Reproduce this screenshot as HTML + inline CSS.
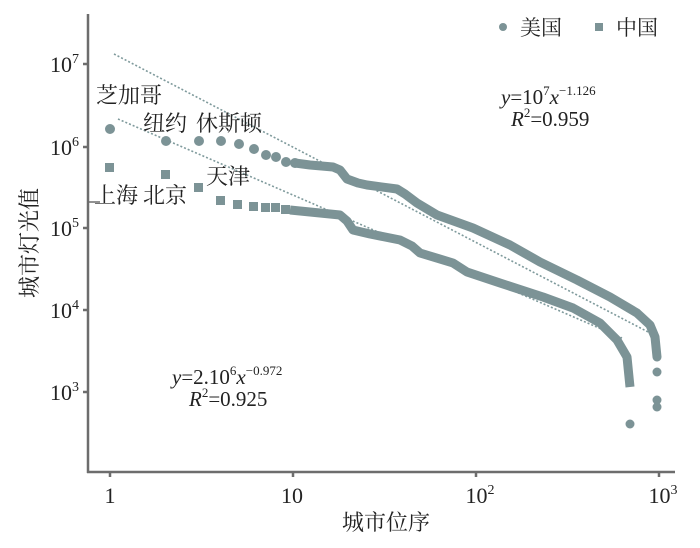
<!DOCTYPE html>
<html><head><meta charset="utf-8"><style>
html,body{margin:0;padding:0;background:#fff;}
svg{display:block;}
text{font-family:"Liberation Serif","Noto Serif CJK SC",serif;fill:#222;}
</style></head><body>
<svg width="700" height="548" viewBox="0 0 700 548" xmlns="http://www.w3.org/2000/svg">
<!-- fit lines -->
<line x1="114" y1="54" x2="652" y2="334" stroke="#7f9a9c" stroke-width="1.6" stroke-dasharray="2,2"/>
<line x1="118" y1="119" x2="622" y2="338" stroke="#7f9a9c" stroke-width="1.6" stroke-dasharray="2,2"/>
<!-- US -->
<g fill="#7c9396">
<circle cx="110" cy="129" r="5"/><circle cx="166" cy="141" r="5"/><circle cx="199" cy="141" r="5"/>
<circle cx="221" cy="141" r="5"/><circle cx="239" cy="144" r="5"/><circle cx="254" cy="149" r="5"/>
<circle cx="266" cy="155" r="5"/><circle cx="276" cy="157" r="5"/><circle cx="286" cy="162" r="5"/>
<circle cx="295" cy="163" r="5"/><circle cx="657" cy="372" r="4.5"/><circle cx="657" cy="400" r="4.5"/><circle cx="657" cy="407" r="4.5"/>
<circle cx="630" cy="424" r="4.5"/>
</g>
<polyline fill="none" stroke="#7c9396" stroke-width="9" stroke-linejoin="round" stroke-linecap="round"
points="295,163 310,165 333,167 340,170 347,179 358,183 367,185 397,189 405,194 417,203 437,215 473,228 510,245 540,262 577,280 610,297 637,313 650,325 655,337 657,357"/>
<!-- China -->
<g fill="#7c9396">
<rect x="105" y="163" width="9" height="9"/><rect x="161" y="170" width="9" height="9"/><rect x="194" y="183" width="9" height="9"/>
<rect x="216" y="196" width="9" height="9"/><rect x="233" y="200" width="9" height="9"/><rect x="249" y="202" width="9" height="9"/>
<rect x="261" y="203" width="9" height="9"/><rect x="271" y="203" width="9" height="9"/><rect x="281" y="205" width="9" height="9"/>
</g>
<polyline fill="none" stroke="#7c9396" stroke-width="9" stroke-linejoin="round"
points="290,210 300,211 340,215 347,221 353,230 370,234 400,240 412,246 420,253 453,263 467,272 500,283 543,297 573,308 600,323 617,340 627,357 630,387"/>
<!-- axes -->
<g stroke="#6d6d6d" stroke-width="2.5" fill="none">
<line x1="88" y1="14" x2="88" y2="473"/>
<line x1="87" y1="472" x2="675" y2="472"/>
<line x1="83" y1="64" x2="88" y2="64"/><line x1="83" y1="147" x2="88" y2="147"/><line x1="83" y1="228" x2="88" y2="228"/>
<line x1="83" y1="310" x2="88" y2="310"/><line x1="83" y1="392" x2="88" y2="392"/>
<line x1="110" y1="472" x2="110" y2="477"/><line x1="293" y1="472" x2="293" y2="477"/><line x1="476" y1="472" x2="476" y2="477"/><line x1="659" y1="472" x2="659" y2="477"/>
</g>
<line x1="88" y1="202" x2="100" y2="202" stroke="#6d6d6d" stroke-width="1.5"/>
<!-- y tick labels -->
<g font-size="22" text-anchor="end">
<text x="79" y="72">10<tspan font-size="14" dy="-9">7</tspan></text>
<text x="79" y="155">10<tspan font-size="14" dy="-9">6</tspan></text>
<text x="79" y="236">10<tspan font-size="14" dy="-9">5</tspan></text>
<text x="79" y="318">10<tspan font-size="14" dy="-9">4</tspan></text>
<text x="79" y="400">10<tspan font-size="14" dy="-9">3</tspan></text>
</g>
<g font-size="22" text-anchor="middle">
<text x="110" y="503">1</text>
<text x="292" y="503">10</text>
<text x="480" y="503">10<tspan font-size="14" dy="-9">2</tspan></text>
<text x="663" y="503">10<tspan font-size="14" dy="-9">3</tspan></text>
</g>
<text x="386" y="530" font-size="22" text-anchor="middle">城市位序</text>
<text transform="translate(37,243) rotate(-90)" font-size="22" text-anchor="middle">城市灯光值</text>
<!-- legend -->
<circle cx="503" cy="27" r="4" fill="#7c9396"/>
<text x="520" y="35" font-size="21">美国</text>
<rect x="595" y="23" width="8" height="8" fill="#7c9396"/>
<text x="616" y="35" font-size="21">中国</text>
<!-- equations -->
<text x="501" y="104" font-size="21"><tspan font-style="italic">y</tspan>=10<tspan font-size="13" dy="-9">7</tspan><tspan font-style="italic" dy="9">x</tspan><tspan font-size="13" dy="-9">−1.126</tspan></text>
<text x="511" y="126" font-size="21"><tspan font-style="italic">R</tspan><tspan font-size="13" dy="-9">2</tspan><tspan dy="9">=0.959</tspan></text>
<text x="172" y="384" font-size="21"><tspan font-style="italic">y</tspan>=2.10<tspan font-size="13" dy="-9">6</tspan><tspan font-style="italic" dy="9">x</tspan><tspan font-size="13" dy="-9">−0.972</tspan></text>
<text x="189" y="406" font-size="21"><tspan font-style="italic">R</tspan><tspan font-size="13" dy="-9">2</tspan><tspan dy="9">=0.925</tspan></text>
<!-- city labels -->
<g font-size="22">
<text x="96" y="103">芝加哥</text>
<text x="143" y="131">纽约</text>
<text x="196" y="131">休斯顿</text>
<text x="206" y="184">天津</text>
<text x="94" y="203">上海</text>
<text x="143" y="203">北京</text>
</g>
</svg>
</body></html>
